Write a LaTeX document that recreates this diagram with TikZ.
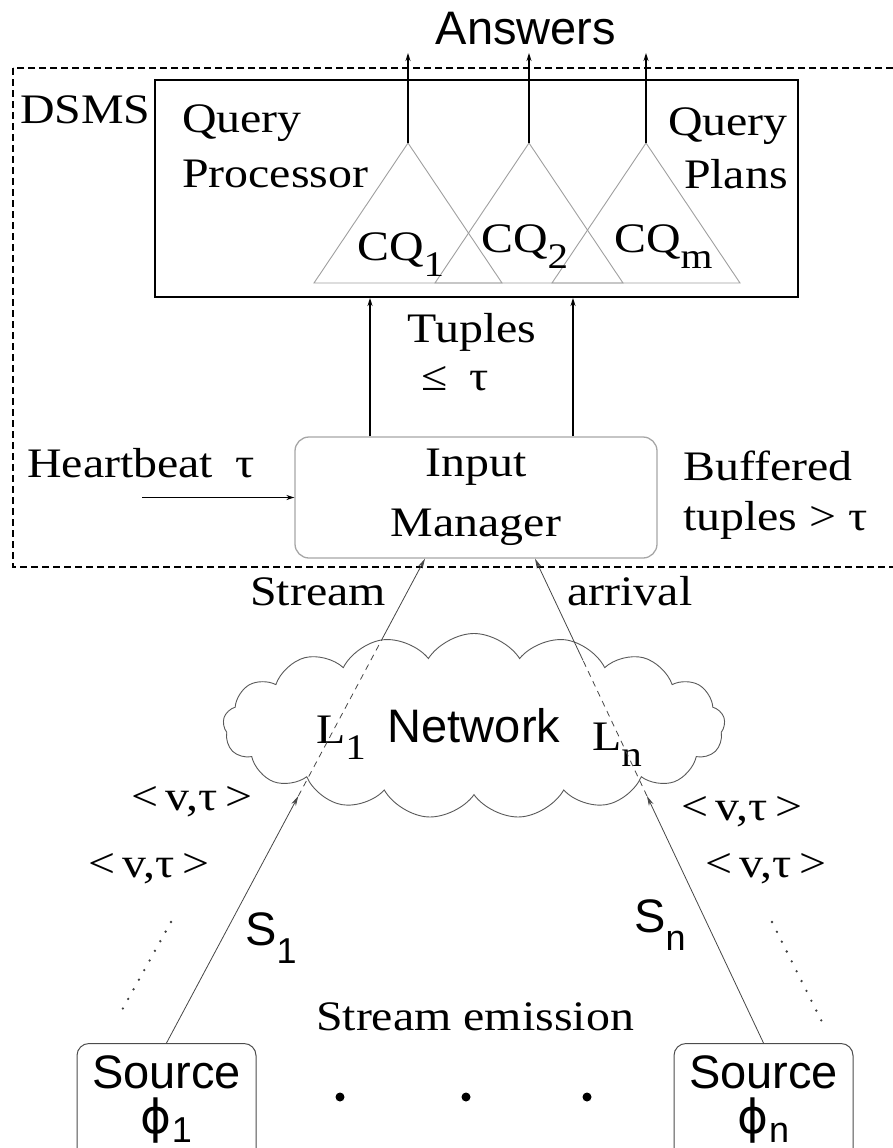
\documentclass[tikz,border=0pt]{standalone}
\usepackage{fontspec}
\setmainfont[FakeStretch=1.14]{Liberation Serif}
\setsansfont{Liberation Sans}
\newfontfamily\grkfont{DejaVu Sans}
\usetikzlibrary{calc,arrows.meta,shapes.symbols}
\newcommand{\lowidx}[2][0.4em]{\raisebox{-#1}{\fontsize{36}{36}\selectfont #2}}
\tikzset{
    txt/.style = {
        inner sep=0pt,
        font=\fontsize{42}{50}\selectfont,
        },
    sans/.style = {
        inner sep=0pt,
        font=\fontsize{47}{50}\selectfont\sffamily,
        },
    query tri/.style = {
        draw=gray!75,
        line width=0.9pt,
        },
    out arrow/.style = {
        -{Stealth[length=8pt, width=5pt]},
        line width=1.2pt,
        },
    feed/.style = {
        draw=gray!55!black,
        line width=0.8pt,
        },
    feed tip/.style = {
        feed,
        -{Stealth[length=10pt, width=5pt]},
        },
    trail/.style = {
        draw=black!75,
        line width=2.6pt,
        line cap=round,
        dash pattern=on 0pt off 11pt,
        },
}

\begin{document}
\begin{tikzpicture}[
            x=1pt, y=-1pt,
            ProcBox/.style={draw, line width=2pt, minimum width=643pt, minimum height=217pt},
            MgrBox/.style={draw=gray!70, rounded corners=14pt, line width=1.3pt, minimum width=362pt, minimum height=121pt, align=center, font=\fontsize{42}{60}\selectfont},
            SrcBox/.style={draw=gray!60!black, rounded corners=12pt, line width=1pt, minimum width=179pt, minimum height=125pt, anchor=north}
            ]
            \useasboundingbox (0,0) rectangle (892,1148);

            % DSMS boundary
            \draw[line width=1.3pt, dash pattern=on 7pt off 4pt] (13,68) rectangle (900,567);
            \node[txt, anchor=base west] (dsms) at (20,123) {DSMS};

            \node[ProcBox] (qp) at (476.5,188.5) {};
            \node[txt, anchor=base west] (qp1) at (182,132) {Query};
            \node[txt, anchor=base west] (qp2) at (182,187) {Processor};
            \node[txt, anchor=base east] (pl1) at (788,135) {Query};
            \node[txt, anchor=base east] (pl2) at (788,188) {Plans};

            \coordinate (c1) at (408,143);
            \coordinate (c2) at (529,143);
            \coordinate (cm) at (646,143);
            \coordinate (top) at (0,53);
            \foreach \c in {c1,c2,cm} {
                \draw[query tri] (\c) -- ++(-94,140) -- ++(188,0) -- cycle;
                \draw[out arrow] (\c) -- (\c |- top);
            }
            \node[txt, anchor=base west] (cq1) at (357,260) {CQ\lowidx{1}};
            \node[txt, anchor=base west] (cq2) at (481,252) {CQ\lowidx{2}};
            \node[txt, anchor=base west] (cqm) at (614,252) {CQ\lowidx{m}};
            \node[sans, anchor=base] (ans) at (526,45) {Answers};

            \node[MgrBox] (im) at (476,497.5) {Input\\Manager};
            \coordinate (ta) at (370,0);
            \coordinate (tb) at (573,0);
            \draw[out arrow] (im.north -| ta) -- (qp.south -| ta);
            \draw[out arrow] (im.north -| tb) -- (qp.south -| tb);
            \node[txt, anchor=base] (tup) at (472,342) {Tuples};
            \node[txt, anchor=base west] (le) at (421,390) {≤\hspace{22pt}τ};

            \coordinate (hbin) at (142,497.5);
            \draw[out arrow, line width=1.6pt] (hbin) -- (im.west);
            \node[txt, anchor=base west] (hb) at (27,477) {Heartbeat\hspace{22pt}τ};
            \node[txt, anchor=base west] (buf1) at (683,480) {Buffered};
            \node[txt, anchor=base west] (buf2) at (683,530) {tuples > τ};

            % network and sources
            \node[sans, cloud, cloud puffs=17, cloud puff arc=115, aspect=2.7, draw=gray!70!black, line width=0.9pt, minimum width=502pt, minimum height=185pt] (net) at (474,726) {Network};
            \node[txt, anchor=base west] (l1) at (316,743) {L\lowidx{1}};
            \node[txt, anchor=base west] (ln) at (592,750) {L\lowidx{n}};

            \node[SrcBox] (src1) at (166.5,1043) {};
            \node[SrcBox] (srcn) at (763.5,1043) {};
            \node[sans, anchor=base] (src1a) at (src1.north |- 0,1088) {Source};
            \node[sans, anchor=base] (src1b) at (src1.north |- 0,1133) {{\grkfont ϕ}\lowidx[0.2em]{1}};
            \node[sans, anchor=base] (srcna) at (srcn.north |- 0,1088) {Source};
            \node[sans, anchor=base] (srcnb) at (srcn.north |- 0,1133) {{\grkfont ϕ}\lowidx[0.2em]{n}};

            \coordinate (imL) at ($(im.south)+(-51,0)$);
            \coordinate (imR) at ($(im.south)+(59,0)$);
            \draw[feed tip] (src1.north) -- ($(src1.north)!0.51!(imL)$);
            \draw[feed, dash pattern=on 6pt off 5pt] ($(src1.north)!0.51!(imL)$) -- ($(src1.north)!0.84!(imL)$);
            \draw[feed tip] ($(src1.north)!0.84!(imL)$) -- (imL);
            \draw[feed tip] (srcn.north) -- ($(srcn.north)!0.51!(imR)$);
            \draw[feed, dash pattern=on 6pt off 5pt] ($(srcn.north)!0.51!(imR)$) -- ($(srcn.north)!0.79!(imR)$);
            \draw[feed tip] ($(srcn.north)!0.79!(imR)$) -- (imR);

            \node[txt, anchor=base] (st) at (318,605) {Stream};
            \node[txt, anchor=base] (arr) at (630,605) {arrival};

            \node[txt, anchor=base] (vl1) at (192,810) {<\,v,τ\,>};
            \node[txt, anchor=base] (vl2) at (149,877) {<\,v,τ\,>};
            \node[txt, anchor=base] (vr1) at (742,820) {<\,v,τ\,>};
            \node[txt, anchor=base] (vr2) at (766,877) {<\,v,τ\,>};
            \draw[trail] (171,922) -- (122,1010);
            \draw[trail] (772,922) -- (822,1022);

            \node[sans, anchor=base west] (s1) at (245,945) {S\lowidx{1}};
            \node[sans, anchor=base west] (sn) at (634,932) {S\lowidx{n}};
            \node[txt, anchor=base] (emit) at (475,1030) {Stream emission};

            \foreach \x in {340,466,587}
                \fill (\x,1097) circle (4.5pt);
\end{tikzpicture}
\end{document}
